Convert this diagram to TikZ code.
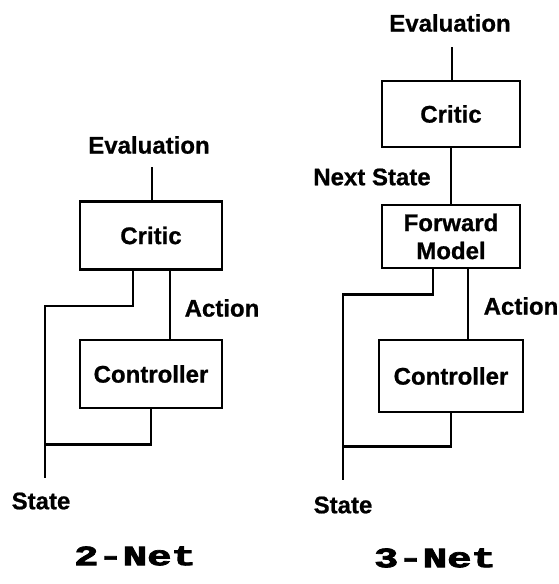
\documentclass[tikz,border=0pt]{standalone}
\usepackage{fontspec}
\setmainfont{Liberation Sans}[BoldFeatures={FakeBold=0.8}]
\newfontfamily\netfont{Liberation Mono}[BoldFeatures={FakeBold=2.5}]
\usepackage{tikz}

\begin{document}
\begin{tikzpicture}[x=1pt,y=-1pt]
  \useasboundingbox (0,0) rectangle (558,584);

  % Define styles for boxes, labels and lines
  \tikzset{
    mybox/.style={draw, line width=2.6pt, black, minimum width=142pt, minimum height=68pt,
      font=\fontsize{24}{29}\selectfont\bfseries, align=center, inner sep=0pt},
    mylabel/.style={font=\fontsize{24}{27}\selectfont\bfseries, inner sep=0pt},
    mytitle/.style={font=\fontsize{28}{28}\selectfont\netfont\bfseries, inner sep=0pt},
    myline/.style={line width=2.6pt, black}
  }

  % 2-Net
  \node[mylabel] (eval2) at (149,145) {Evaluation};
  \coordinate (e2) at (152,167);
  \node[mybox] (critic2) at (151,235.5) {Critic};
  \node[mybox] (ctrl2) at (151,374) {Controller};
  \node[mylabel] (act2) at (222,308) {Action};
  \node[mylabel] (state2) at (41,501) {State};
  \coordinate (s2) at (45,478);
  \node[mytitle] (net2) at (135,556) {\scalebox{1.45}[1]{2-Net}};

  \draw[myline] (e2) -- (e2 |- critic2.north);
  \draw[myline] ([xshift=-18pt]critic2.south) -- ++(0,35) -| (s2);
  \draw[myline] ([xshift=19pt]critic2.south) -- ([xshift=19pt]ctrl2.north);
  \draw[myline] (ctrl2.south) -- ++(0,35) -| (s2);

  % 3-Net
  \node[mylabel] (eval3) at (450,23) {Evaluation};
  \coordinate (e3) at (452,47);
  \node[mybox, minimum width=138pt, minimum height=66pt] (critic3) at (451,114) {Critic};
  \node[mylabel] (next3) at (372,177) {Next State};
  \node[mybox, minimum width=138pt, minimum height=63pt] (fwd3) at (451,236.5) {Forward\\[-1pt]Model};
  \node[mylabel] (act3) at (521,306) {Action};
  \node[mybox, minimum width=144pt, minimum height=72pt] (ctrl3) at (451,376) {Controller};
  \node[mylabel] (state3) at (343,505) {State};
  \coordinate (s3) at (343,480);
  \node[mytitle] (net3) at (435,558) {\scalebox{1.45}[1]{3-Net}};

  \draw[myline] (e3) -- (e3 |- critic3.north);
  \draw[myline] (critic3.south) -- (fwd3.north);
  \draw[myline] ([xshift=-18pt]fwd3.south) -- ++(0,25) -| (s3);
  \draw[myline] ([xshift=17pt]fwd3.south) -- ([xshift=17pt]fwd3.south |- ctrl3.north);
  \draw[myline] (ctrl3.south) -- ++(0,33) -| (s3);

\end{tikzpicture}
\end{document}
